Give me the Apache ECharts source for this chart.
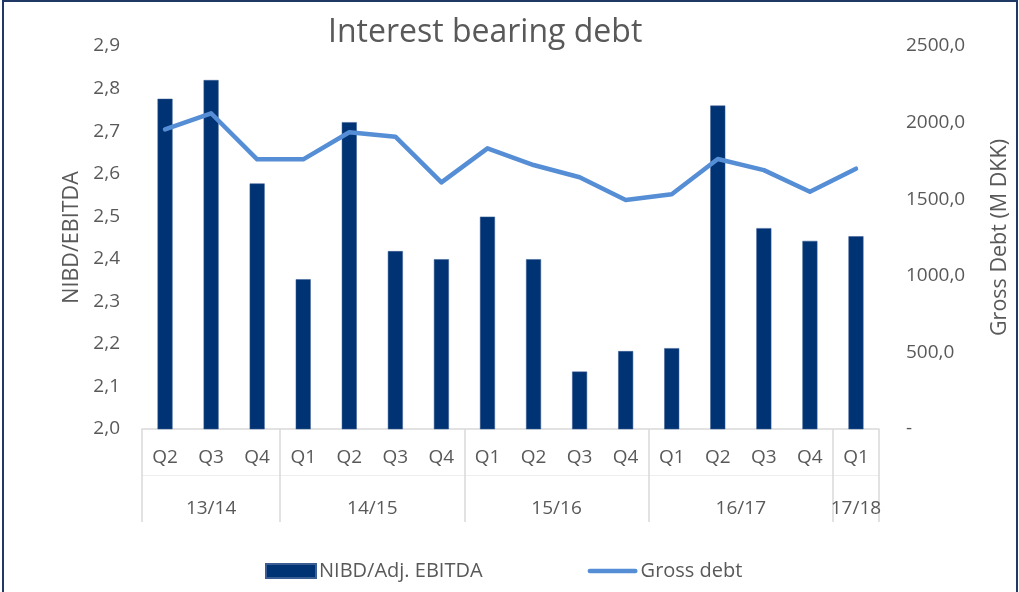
<!DOCTYPE html>
<html>
<head>
<meta charset="utf-8">
<script src="https://cdn.jsdelivr.net/npm/echarts@6/dist/echarts.min.js"></script>
<style>
  html, body { margin: 0; padding: 0; background: #fff; }
  #chart { position: absolute; left: 0; top: 0; width: 1019px; height: 592px; }
  #frame { position: absolute; left: 2px; top: 0px; width: 1012px; height: 600px; border: 2px solid #1f3864; pointer-events: none; }
</style>
</head>
<body>
<div id="chart"></div>
<div id="frame"></div>
<script>
const quarters = ['Q2','Q3','Q4','Q1','Q2','Q3','Q4','Q1','Q2','Q3','Q4','Q1','Q2','Q3','Q4','Q1'];
const years = ['13/14','14/15','15/16','16/17','17/18'];
const yearCounts = [3, 4, 4, 4, 1];
const ratio = [2.776, 2.82, 2.577, 2.352, 2.721, 2.418, 2.399, 2.499, 2.399, 2.135, 2.183, 2.19, 2.76, 2.472, 2.442, 2.453];
const grossDebt = [1956, 2061, 1760, 1760, 1937, 1908, 1610, 1832, 1723, 1643, 1495, 1532, 1762, 1690, 1549, 1699];

// group boundaries and centres (in category units) derived from counts
const bounds = [0];
yearCounts.forEach(c => bounds.push(bounds[bounds.length - 1] + c));
const centres = yearCounts.map((c, i) => bounds[i] + c / 2);
const centreLabel = {};
centres.forEach((c, i) => { centreLabel[c.toFixed(2)] = years[i]; });

const FONT = 'Open Sans';
const TXT = '#595959';
const GRIDC = '#d9d9d9';
const LINE_ICON = 'path://M2.5,0 L50.5,0 A2.5,2.5 0 0 1 50.5,5 L2.5,5 A2.5,2.5 0 0 1 2.5,0 Z';

const chart = echarts.init(document.getElementById('chart'), null, { renderer: 'canvas' });
chart.setOption({
  animation: false,
  backgroundColor: '#ffffff',
  textStyle: { fontFamily: FONT, color: TXT },
  title: {
    text: 'Interest bearing debt',
    left: 323, top: 12,
    textStyle: { fontFamily: FONT, fontSize: 32, fontWeight: 'normal', color: TXT }
  },
  legend: {
    left: 260, top: 556,
    itemWidth: 50, itemHeight: 14, itemGap: 105,
    symbolKeepAspect: true,
    textStyle: { fontFamily: FONT, fontSize: 20, color: TXT, padding: [0, 0, 0, -2] },
    data: [
      { name: 'NIBD/Adj. EBITDA', icon: 'rect' },
      { name: 'Gross debt', icon: LINE_ICON }
    ]
  },
  grid: { left: 142, right: 139, top: 46, bottom: 163, containLabel: false },
  xAxis: [
    {
      type: 'category',
      data: quarters,
      position: 'bottom',
      axisLine: { show: true, lineStyle: { color: GRIDC, width: 1.5 } },
      axisTick: { show: false },
      axisLabel: { fontFamily: FONT, fontSize: 19, color: TXT, margin: 19, interval: 0 },
      splitLine: { show: false }
    },
    {
      type: 'value',
      min: 0, max: quarters.length,
      position: 'bottom',
      axisLine: { show: false },
      splitLine: { show: false },
      axisTick: { show: true, customValues: bounds, length: 93, lineStyle: { color: GRIDC, width: 1.5 } },
      axisLabel: {
        show: true, customValues: centres, margin: 70,
        fontFamily: FONT, fontSize: 19, color: TXT,
        formatter: v => centreLabel[Number(v).toFixed(2)] || ''
      }
    },
    {
      type: 'value',
      min: 0, max: quarters.length,
      position: 'bottom', offset: 46,
      axisLine: { show: true, lineStyle: { color: '#eeeeee', width: 1 } },
      axisTick: { show: false },
      axisLabel: { show: false },
      splitLine: { show: false }
    }
  ],
  yAxis: [
    {
      type: 'value',
      min: 2.0, max: 2.9, interval: 0.1,
      name: 'NIBD/EBITDA', nameLocation: 'middle', nameGap: 46,
      nameTextStyle: { fontFamily: FONT, fontSize: 21.5, color: TXT },
      axisLine: { show: false }, axisTick: { show: false },
      splitLine: { show: false },
      axisLabel: { fontFamily: FONT, fontSize: 19, color: TXT, margin: 22,
        formatter: v => v.toFixed(1).replace('.', ',') }
    },
    {
      type: 'value',
      min: 0, max: 2500, interval: 500,
      name: 'Gross Debt (M DKK)', nameLocation: 'middle', nameGap: 110,
      nameTextStyle: { fontFamily: FONT, fontSize: 21.5, color: TXT },
      axisLine: { show: false }, axisTick: { show: false },
      splitLine: { show: false },
      axisLabel: { fontFamily: FONT, fontSize: 19, color: TXT, margin: 27,
        formatter: v => v === 0 ? '-' : v.toFixed(1).replace('.', ',') }
    }
  ],
  series: [
    {
      name: 'NIBD/Adj. EBITDA',
      type: 'bar',
      xAxisIndex: 0, yAxisIndex: 0,
      data: ratio,
      barWidth: 15,
      itemStyle: { color: '#003373', borderColor: '#3a5d94', borderWidth: 0.5 }
    },
    {
      name: 'Gross debt',
      type: 'line',
      xAxisIndex: 0, yAxisIndex: 1,
      data: grossDebt,
      symbol: 'none', showSymbol: false,
      lineStyle: { color: '#558ed5', width: 4.5, cap: 'round', join: 'round' },
      itemStyle: { color: '#558ed5' }
    }
  ]
});
</script>
</body>
</html>
